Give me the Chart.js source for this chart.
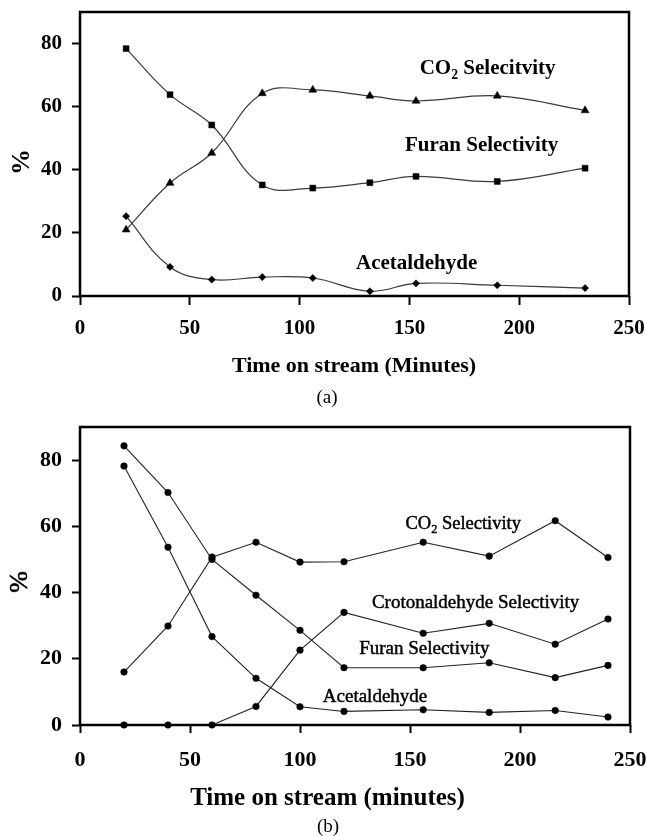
<!DOCTYPE html>
<html>
<head>
<meta charset="utf-8">
<script src="https://cdn.jsdelivr.net/npm/chart.js@4.4.1/dist/chart.umd.min.js"></script>
<style>
  html, body { margin: 0; padding: 0; background: #fff; }
  #wrap { position: relative; width: 646px; height: 836px; overflow: hidden; background: #fff; }
  #wrap canvas { position: absolute; left: 0; }
  #chartA { top: 0; }
  #chartB { top: 410px; }
</style>
</head>
<body>
<div id="wrap">
  <canvas id="chartA" width="646" height="410"></canvas>
  <canvas id="chartB" width="646" height="426"></canvas>
</div>
<script>
const SERIF = '"Liberation Serif", "Times New Roman", Times, serif';

// ---- Panel (a): selectivities vs. time on stream ----
const timeA  = [21, 41, 60, 83, 106, 132, 153, 190, 230];
const co2A   = [21.0, 35.8, 45.3, 64.2, 65.3, 63.4, 61.8, 63.4, 58.8];
const furanA = [78.4, 63.8, 54.2, 35.2, 34.2, 35.9, 37.9, 36.3, 40.5];
const acetA  = [25.3, 9.2, 5.2, 6.0, 5.7, 1.5, 4.0, 3.4, 2.5];

// ---- Panel (b) ----
const timeB    = [20, 40, 60, 80, 100, 120, 156, 186, 216, 240];
const co2B     = [16.0, 29.9, 50.7, 55.2, 49.2, 49.3, 55.2, 51.0, 61.7, 50.6];
const crotonB  = [0, 0, 0, 5.6, 22.6, 34.0, 27.7, 30.7, 24.4, 32.0];
const furanB   = [84.3, 70.2, 50.0, 39.2, 28.6, 17.3, 17.3, 18.8, 14.3, 18.0];
const acetB    = [78.2, 53.7, 26.7, 14.1, 5.5, 4.1, 4.6, 3.8, 4.4, 2.4];

// ---- Shared axis ticks ----
const xTicks = [0, 50, 100, 150, 200, 250];
const yTicks = [0, 20, 40, 60, 80];

const toPoints = (xs, ys) => xs.map((x, i) => ({ x: x, y: ys[i] }));

// Draws a label made of parts, some of which may be subscripts, centred on (cx, cy)
function drawRich(ctx, parts, cx, cy, size, weight, stroke) {
  const items = parts.map(p => {
    const s = p.sub ? size * 0.66 : size;
    ctx.font = `${weight} ${s}px ${SERIF}`;
    return { text: p.text, sub: !!p.sub, s: s, w: ctx.measureText(p.text).width };
  });
  const total = items.reduce((a, it) => a + it.w, 0);
  let x = cx - total / 2;
  const base = cy + size * 0.3;
  ctx.textAlign = 'left';
  ctx.textBaseline = 'alphabetic';
  items.forEach(it => {
    ctx.font = `${weight} ${it.s}px ${SERIF}`;
    const y = it.sub ? base + size * 0.2 : base;
    ctx.fillText(it.text, x, y);
    if (stroke) {
      ctx.lineWidth = stroke;
      ctx.strokeStyle = '#000';
      ctx.strokeText(it.text, x, y);
    }
    x += it.w;
  });
}

// Frame around the plot area plus in-plot series labels and captions
const panelDecor = {
  id: 'panelDecor',
  afterDraw(chart, args, opts) {
    const { ctx, chartArea: a, scales } = chart;
    ctx.save();
    ctx.strokeStyle = '#000';
    ctx.lineWidth = opts.frameWidth;
    ctx.strokeRect(a.left, a.top, a.right - a.left, a.bottom - a.top);
    ctx.fillStyle = '#000';
    (opts.seriesLabels || []).forEach(l => {
      const px = scales.x.getPixelForValue(l.at[0]);
      const py = scales.y.getPixelForValue(l.at[1]);
      drawRich(ctx, l.parts, px, py, l.size, l.weight, l.stroke);
    });
    (opts.captions || []).forEach(c => {
      ctx.save();
      ctx.translate(c.x, c.y);
      if (c.rotate) ctx.rotate(c.rotate);
      drawRich(ctx, [{ text: c.text }], 0, 0, c.size, c.weight, c.stroke);
      ctx.restore();
    });
    ctx.restore();
  }
};

function makeOptions(cfg) {
  return {
    responsive: false,
    animation: false,
    events: [],
    layout: { padding: { left: 0, right: cfg.padRight, top: cfg.padTop, bottom: 0 } },
    plugins: {
      legend: { display: false },
      tooltip: { enabled: false },
      panelDecor: {
        frameWidth: 2.5,
        seriesLabels: cfg.seriesLabels,
        captions: cfg.captions
      }
    },
    scales: {
      x: {
        type: 'linear',
        min: 0, max: 250,
        afterBuildTicks: s => { s.ticks = xTicks.map(v => ({ value: v })); },
        afterFit: s => { s.height = cfg.xAxisHeight; s.paddingLeft = 0; s.paddingRight = 0; },
        border: { display: false },
        grid: { drawOnChartArea: false, drawTicks: true, tickLength: cfg.tickLen, tickWidth: 2, tickColor: '#000' },
        ticks: { color: '#000', padding: cfg.xPad, maxRotation: 0, autoSkip: false,
                 font: { family: SERIF, size: cfg.tickSize, weight: 'bold' } }
      },
      y: {
        type: 'linear',
        min: 0, max: 90,
        afterBuildTicks: s => { s.ticks = yTicks.map(v => ({ value: v })); },
        afterFit: s => { s.width = 80; s.paddingTop = 0; s.paddingBottom = 0; },
        border: { display: false },
        grid: { drawOnChartArea: false, drawTicks: true, tickLength: 8, tickWidth: 2, tickColor: '#000' },
        ticks: { color: '#000', padding: 10, autoSkip: false,
                 font: { family: SERIF, size: cfg.tickSize, weight: 'bold' } }
      }
    }
  };
}

const lineA = { borderColor: '#3a3a3a', borderWidth: 1.2, backgroundColor: '#000', pointBackgroundColor: '#000',
                pointBorderColor: '#000', pointBorderWidth: 0.5, tension: 0.4, clip: false, fill: false };

new Chart(document.getElementById('chartA'), {
  type: 'line',
  data: {
    datasets: [
      Object.assign({ label: 'CO2 Selectivity', data: toPoints(timeA, co2A), pointStyle: 'triangle', pointRadius: 4.6 }, lineA),
      Object.assign({ label: 'Furan Selectivity', data: toPoints(timeA, furanA), pointStyle: 'rect', pointRadius: 4.2 }, lineA),
      Object.assign({ label: 'Acetaldehyde', data: toPoints(timeA, acetA), pointStyle: 'rectRot', pointRadius: 3.6 }, lineA)
    ]
  },
  options: makeOptions({
    padRight: 17, padTop: 12, xAxisHeight: 114, tickLen: 9, xPad: 11, tickSize: 21,
    seriesLabels: [
      { parts: [{ text: 'CO' }, { text: '2', sub: true }, { text: ' Selecitvity' }], at: [185.6, 72.2], size: 21, weight: 'bold' },
      { parts: [{ text: 'Furan Selectivity' }], at: [182.9, 47.8], size: 21, weight: 'bold' },
      { parts: [{ text: 'Acetaldehyde' }], at: [153.3, 10.4], size: 21, weight: 'bold' }
    ],
    captions: [
      { text: '%', x: 21, y: 162, size: 26, weight: 'bold', rotate: -Math.PI / 2 },
      { text: 'Time on stream (Minutes)', x: 354, y: 365, size: 22, weight: 'bold' },
      { text: '(a)', x: 327, y: 397, size: 19, weight: 'normal' }
    ]
  }),
  plugins: [panelDecor]
});

const lineB = { borderColor: '#222', borderWidth: 1.1, backgroundColor: '#000', pointBackgroundColor: '#000',
                pointBorderColor: '#000', pointBorderWidth: 0.5, pointStyle: 'circle', pointRadius: 3.3,
                tension: 0, clip: false, fill: false };

new Chart(document.getElementById('chartB'), {
  type: 'line',
  data: {
    datasets: [
      Object.assign({ label: 'CO2 Selectivity', data: toPoints(timeB, co2B) }, lineB),
      Object.assign({ label: 'Crotonaldehyde Selectivity', data: toPoints(timeB, crotonB) }, lineB),
      Object.assign({ label: 'Furan Selectivity', data: toPoints(timeB, furanB) }, lineB),
      Object.assign({ label: 'Acetaldehyde', data: toPoints(timeB, acetB) }, lineB)
    ]
  },
  options: makeOptions({
    padRight: 16, padTop: 17, xAxisHeight: 111, tickLen: 8, xPad: 14, tickSize: 22,
    seriesLabels: [
      { parts: [{ text: 'CO' }, { text: '2', sub: true }, { text: ' Selectivity' }], at: [174.2, 60.8], size: 18.5, weight: 'normal', stroke: 0.45 },
      { parts: [{ text: 'Crotonaldehyde Selectivity' }], at: [179.8, 37.0], size: 19, weight: 'normal', stroke: 0.45 },
      { parts: [{ text: 'Furan Selectivity' }], at: [156.5, 23.1], size: 19, weight: 'normal', stroke: 0.45 },
      { parts: [{ text: 'Acetaldehyde' }], at: [134.1, 8.7], size: 19, weight: 'normal', stroke: 0.45 }
    ],
    captions: [
      { text: '%', x: 19, y: 172, size: 26, weight: 'normal', rotate: -Math.PI / 2, stroke: 0.6 },
      { text: 'Time on stream (minutes)', x: 327.5, y: 387, size: 25, weight: 'bold' },
      { text: '(b)', x: 328, y: 416, size: 19, weight: 'normal' }
    ]
  }),
  plugins: [panelDecor]
});
</script>
</body>
</html>
